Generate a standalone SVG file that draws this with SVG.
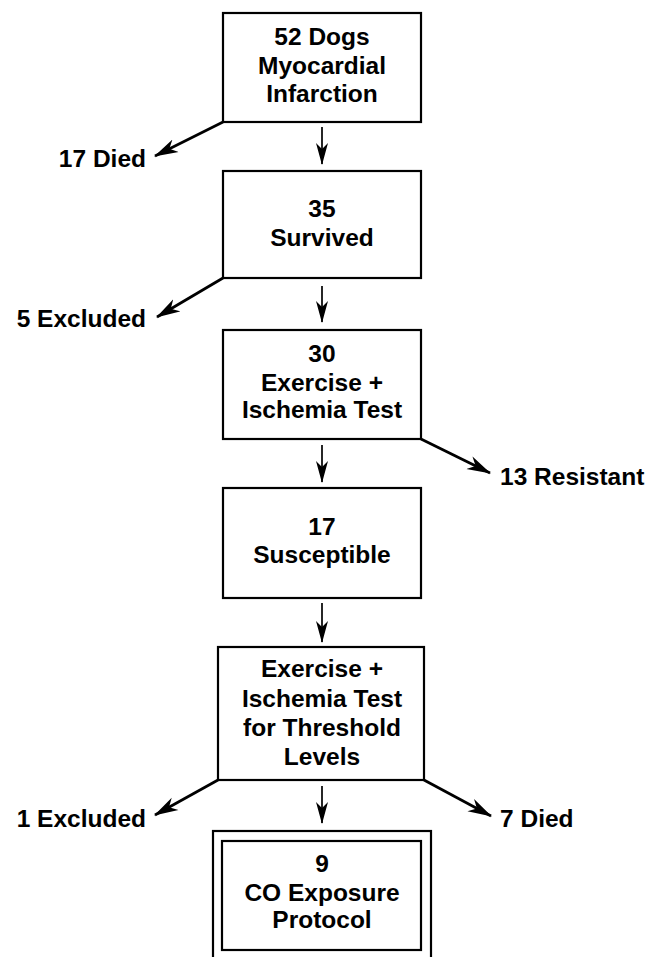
<svg xmlns="http://www.w3.org/2000/svg" width="658" height="957" viewBox="0 0 658 957">
<style>
.box{fill:#fff;stroke:#000;stroke-width:2.2}
.t{font-family:"Liberation Sans",Arial,sans-serif;font-weight:bold;font-size:24.5px;fill:#000}
.c{text-anchor:middle}
.dn{stroke:#000;stroke-width:1.7;fill:none;marker-end:url(#headV)}
.dg{stroke:#000;stroke-width:2.8;fill:none;marker-end:url(#headD)}
</style>
<defs>
<marker id="headV" viewBox="0 -7 22 14" refX="21" refY="0" markerWidth="22" markerHeight="14" markerUnits="userSpaceOnUse" orient="auto">
<path d="M0,-6 L22,0 L0,6 L6,0 Z" fill="#000"/>
</marker>
<marker id="headD" viewBox="0 -8 24 16" refX="23" refY="0" markerWidth="24" markerHeight="16" markerUnits="userSpaceOnUse" orient="auto">
<path d="M0,-7 L24,0 L0,7 L7,0 Z" fill="#000"/>
</marker>
</defs>
<g id="n1">
<rect class="box" x="223" y="13" width="198" height="109"/>
<text class="t c" x="322" y="45">52 Dogs</text>
<text class="t c" x="322" y="74">Myocardial</text>
<text class="t c" x="322" y="102">Infarction</text>
</g>
<g id="n2">
<rect class="box" x="223" y="171" width="198" height="107"/>
<text class="t c" x="322" y="217">35</text>
<text class="t c" x="322" y="246">Survived</text>
</g>
<g id="n3">
<rect class="box" x="223" y="330" width="198" height="109"/>
<text class="t c" x="322" y="362">30</text>
<text class="t c" x="322" y="391">Exercise +</text>
<text class="t c" x="322" y="418">Ischemia Test</text>
</g>
<g id="n4">
<rect class="box" x="223" y="488" width="198" height="110"/>
<text class="t c" x="322" y="535">17</text>
<text class="t c" x="322" y="563">Susceptible</text>
</g>
<g id="n5">
<rect class="box" x="218" y="647" width="206" height="133"/>
<text class="t c" x="322" y="677">Exercise +</text>
<text class="t c" x="322" y="707">Ischemia Test</text>
<text class="t c" x="322" y="736">for Threshold</text>
<text class="t c" x="322" y="765">Levels</text>
</g>
<g id="n6">
<rect class="box" x="213" y="831" width="218" height="140"/>
<rect class="box" x="222" y="841" width="199" height="109"/>
<text class="t c" x="322" y="872">9</text>
<text class="t c" x="322" y="901">CO Exposure</text>
<text class="t c" x="322" y="928">Protocol</text>
</g>
<g id="l1"><text class="t" x="146" y="167" text-anchor="end">17 Died</text></g>
<g id="l2"><text class="t" x="146" y="327" text-anchor="end">5 Excluded</text></g>
<g id="l3"><text class="t" x="500" y="485">13 Resistant</text></g>
<g id="l4"><text class="t" x="146" y="827" text-anchor="end">1 Excluded</text></g>
<g id="l5"><text class="t" x="500" y="827">7 Died</text></g>
<g id="connectors">
<line class="dn" x1="322" y1="127" x2="322" y2="164"/>
<line class="dn" x1="322" y1="286" x2="322" y2="322"/>
<line class="dn" x1="322" y1="445" x2="322" y2="482"/>
<line class="dn" x1="322" y1="603" x2="322" y2="642"/>
<line class="dn" x1="322" y1="786" x2="322" y2="823"/>
<line class="dg" x1="223" y1="122" x2="155" y2="156"/>
<line class="dg" x1="223" y1="278" x2="157" y2="317"/>
<line class="dg" x1="421" y1="439" x2="490" y2="473"/>
<line class="dg" x1="218" y1="780" x2="155" y2="815"/>
<line class="dg" x1="424" y1="780" x2="491" y2="816"/>
</g>
</svg>
